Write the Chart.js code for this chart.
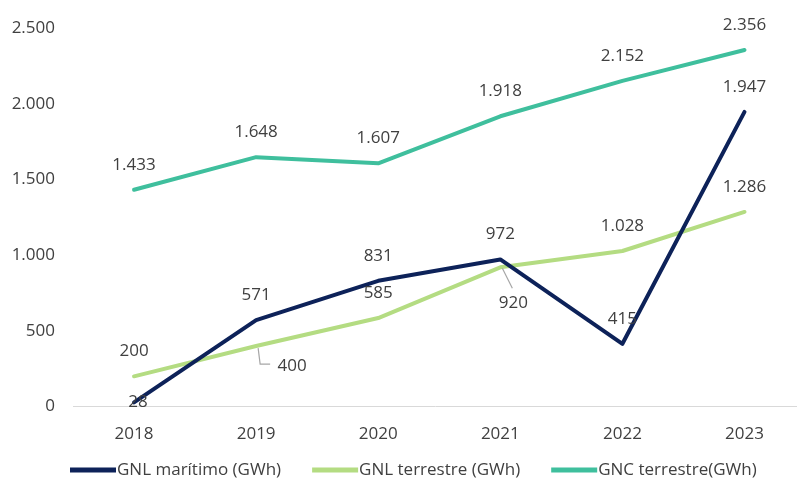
<!DOCTYPE html>
<html>
<head>
<meta charset="utf-8">
<script src="https://cdn.jsdelivr.net/npm/chart.js@4/dist/chart.umd.min.js"></script>
<style>
  body { margin: 0; background: #fff; }
  #wrap { width: 797px; height: 482px; }
</style>
</head>
<body>
<div id="wrap"><canvas id="chart"></canvas></div>
<script>
const years = [2018, 2019, 2020, 2021, 2022, 2023];
const gnlMaritimo = [28, 571, 831, 972, 415, 1947];
const gnlTerrestre = [200, 400, 585, 920, 1028, 1286];
const gncTerrestre = [1433, 1648, 1607, 1918, 2152, 2356];
const yTicks = [0, 500, 1000, 1500, 2000, 2500];

const fmt = (v) => v.toLocaleString("de-DE");
const font = "'Open Sans', sans-serif";
const textColor = "#404040";

// label placement: [dx, dy, leader] from the point, null = default above
const labelOffsets = [
  [[4, 0], null, null, null, null, null],
  [null, [36, 20, "elbow"], null, [13, 36, "diag"], null, null],
  [null, null, null, null, null, null],
];

const labelsPlugin = {
  id: "pointLabels",
  afterDatasetsDraw(chart) {
    const ctx = chart.ctx;
    ctx.save();
    ctx.font = "17px " + font;
    ctx.fillStyle = textColor;
    ctx.textAlign = "center";
    ctx.textBaseline = "middle";
    chart.data.datasets.forEach((ds, i) => {
      const meta = chart.getDatasetMeta(i);
      meta.data.forEach((pt, j) => {
        const off = labelOffsets[i][j];
        let x = pt.x, y = pt.y - 25;
        if (off) {
          x = pt.x + off[0];
          y = pt.y + off[1];
          ctx.strokeStyle = "#a6a6a6";
          ctx.lineWidth = 1.2;
          if (off[2] === "elbow") {
            ctx.beginPath();
            ctx.moveTo(pt.x + 2, pt.y + 2);
            ctx.lineTo(pt.x + 4, y - 2);
            ctx.lineTo(pt.x + 14, y - 2);
            ctx.stroke();
          } else if (off[2] === "diag") {
            ctx.beginPath();
            ctx.moveTo(pt.x + 2, pt.y + 1);
            ctx.lineTo(pt.x + 12, pt.y + 21);
            ctx.stroke();
          }
        }
        ctx.fillText(fmt(ds.data[j].y), x, y);
      });
    });
    ctx.restore();
  },
};

// legend drawn under the axis, line sample + text
const legendPlugin = {
  id: "bottomLegend",
  afterDraw(chart) {
    const ctx = chart.ctx;
    ctx.save();
    ctx.font = "17px " + font;
    ctx.textBaseline = "middle";
    ctx.textAlign = "left";
    let x = 70;
    const y = 470;
    chart.data.datasets.forEach((ds) => {
      ctx.strokeStyle = ds.borderColor;
      ctx.lineWidth = 5;
      ctx.beginPath();
      ctx.moveTo(x, y);
      ctx.lineTo(x + 46, y);
      ctx.stroke();
      ctx.fillStyle = textColor;
      ctx.fillText(ds.label, x + 47, y);
      x += 47 + ctx.measureText(ds.label).width + 31;
    });
    ctx.restore();
  },
};

function series(label, values, color) {
  return {
    label,
    data: years.map((yr, k) => ({ x: yr, y: values[k] })),
    borderColor: color,
    backgroundColor: color,
    borderWidth: 4,
    pointRadius: 0,
    tension: 0,
    borderCapStyle: "round",
    borderJoinStyle: "round",
  };
}

new Chart(document.getElementById("chart"), {
  type: "line",
  data: {
    datasets: [
      series("GNL marítimo (GWh)", gnlMaritimo, "#0d2259"),
      series("GNL terrestre (GWh)", gnlTerrestre, "#b4dc82"),
      series("GNC terrestre(GWh)", gncTerrestre, "#3fbf9d"),
    ],
  },
  options: {
    responsive: true,
    maintainAspectRatio: false,
    animation: false,
    layout: { padding: { top: 26, left: 0, right: 0, bottom: 21 } },
    plugins: {
      tooltip: { enabled: false },
      legend: { display: false },
    },
    scales: {
      x: {
        type: "linear",
        min: 2017.5,
        max: 2023.43,
        afterBuildTicks: (axis) => {
          axis.ticks = years.map((v) => ({ value: v }));
        },
        grid: { display: false, drawTicks: false },
        border: { color: "#d9d9d9", width: 1 },
        ticks: {
          padding: 17,
          color: textColor,
          font: { size: 17, family: font },
          callback: (v) => String(v),
        },
      },
      y: {
        min: 0,
        max: 2500,
        afterBuildTicks: (axis) => {
          axis.ticks = yTicks.map((v) => ({ value: v }));
        },
        afterFit: (axis) => {
          axis.width = 73;
        },
        grid: { display: false, drawTicks: false },
        border: { display: false },
        ticks: {
          padding: 18,
          color: textColor,
          font: { size: 17, family: font },
          callback: (v) => fmt(v),
        },
      },
    },
  },
  plugins: [labelsPlugin, legendPlugin],
});
</script>
</body>
</html>
